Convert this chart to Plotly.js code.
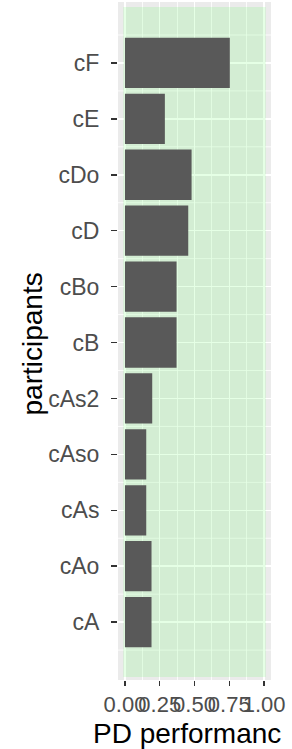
<!DOCTYPE html>
<html>
<head>
<meta charset="utf-8">
<script src="https://cdn.plot.ly/plotly-3.0.1.min.js"></script>
<style>html,body{margin:0;padding:0;background:#fff;}#chart{width:292px;height:749px;}</style>
</head>
<body>
<div id="chart"></div>
<script>
const participants = ['cA','cAo','cAs','cAso','cAs2','cB','cBo','cD','cDo','cE','cF'];
const performance = [0.191, 0.191, 0.153, 0.153, 0.196, 0.371, 0.371, 0.455, 0.479, 0.287, 0.754];
const xTickVals = [0, 0.25, 0.5, 0.75, 1];
const xTickText = ['0.00', '0.25', '0.50', '0.75', '1.00'];
const xTitle = 'PD performanc';
const yTitle = 'participants';

const W = 292, H = 749;
const margin = {l: 118, r: 21, t: 2, b: 69, pad: 0};
const plotW = W - margin.l - margin.r;
const plotH = H - margin.t - margin.b;
const FONT = '"Liberation Sans", Arial, sans-serif';

const shapes = [];
// translucent green band over the grey panel
shapes.push({type: 'rect', layer: 'between', xref: 'x', yref: 'y',
  x0: -0.012, x1: 1.012, y0: -0.98, y1: 11.0,
  fillcolor: 'rgba(0,255,0,0.1)', line: {width: 0}});
// minor horizontal grid lines between categories
for (let i = 0; i <= participants.length; i++) {
  shapes.push({type: 'line', layer: 'below', xref: 'paper', yref: 'y',
    x0: 0, x1: 1, y0: i - 0.5, y1: i - 0.5,
    line: {color: '#FFFFFF', width: 0.8}});
}

const trace = {
  type: 'bar', orientation: 'h',
  x: performance, y: participants,
  marker: {color: '#595959', line: {width: 0}},
  width: 0.9, hoverinfo: 'none'
};

const layout = {
  width: W, height: H, margin: margin,
  paper_bgcolor: '#FFFFFF', plot_bgcolor: '#EBEBEB',
  showlegend: false,
  font: {family: FONT, color: '#4D4D4D'},
  xaxis: {
    range: [-0.05, 1.05], tickvals: xTickVals, ticktext: xTickText,
    tickangle: 0,
    showgrid: true, gridcolor: '#FFFFFF', gridwidth: 1.5, zeroline: false,
    minor: {dtick: 0.125, tick0: 0, showgrid: true, gridcolor: '#FFFFFF', gridwidth: 0.8},
    ticks: 'outside', ticklen: 5, tickwidth: 1.5, tickcolor: '#333333',
    tickfont: {size: 22, color: '#4D4D4D', family: FONT},
    ticklabelstandoff: 0,
    showline: false, fixedrange: true
  },
  yaxis: {
    type: 'category', categoryorder: 'array', categoryarray: participants,
    range: [-1.035, 11.09],
    showgrid: true, gridcolor: '#FFFFFF', gridwidth: 1.5, zeroline: false,
    ticks: 'outside', ticklen: 6, tickwidth: 1.5, tickcolor: '#333333',
    tickfont: {size: 23, color: '#4D4D4D', family: FONT},
    ticklabelstandoff: 7,
    showline: false, fixedrange: true
  },
  shapes: shapes,
  annotations: [
    {text: xTitle, xref: 'paper', yref: 'paper',
     x: (187 - margin.l) / plotW, y: (margin.t + plotH - 734) / plotH,
     xanchor: 'center', yanchor: 'middle', showarrow: false,
     font: {size: 28, color: '#000000', family: FONT}},
    {text: yTitle, xref: 'paper', yref: 'paper', textangle: -90,
     x: (32 - margin.l) / plotW, y: (margin.t + plotH - 344.5) / plotH,
     xanchor: 'center', yanchor: 'middle', showarrow: false,
     font: {size: 28, color: '#000000', family: FONT}}
  ]
};

Plotly.newPlot('chart', [trace], layout, {staticPlot: true, displayModeBar: false});
</script>
</body>
</html>
